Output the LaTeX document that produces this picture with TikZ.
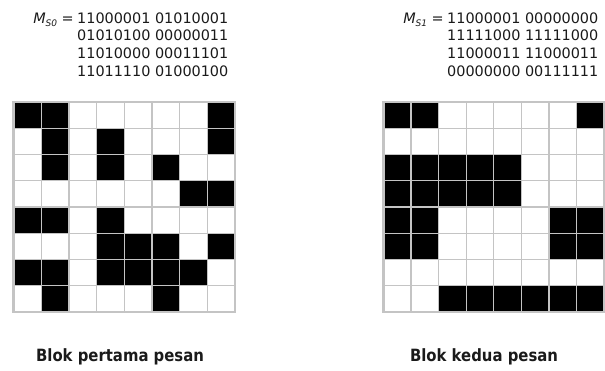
\documentclass[tikz,border=0pt]{standalone}
\usepackage{fontspec}
\setmainfont{DejaVu Sans}
\newfontfamily\lblfont[FakeStretch=0.88]{DejaVu Sans}
\definecolor{gridgray}{HTML}{C4C4C4}
\definecolor{inkcol}{HTML}{1A1A1A}
\begin{document}
\begin{tikzpicture}[x=1pt,y=-1pt,
  bits/.style={anchor=base west,inner sep=0pt,text=inkcol,font=\fontsize{14.4}{16}\selectfont},
  mlabel/.style={anchor=base east,inner sep=0pt,text=inkcol,font=\fontsize{14.4}{16}\selectfont},
  blocklabel/.style={anchor=base,inner sep=0pt,text=inkcol,font=\lblfont\bfseries\fontsize{16.9}{18}\selectfont},
  cellfill/.style={fill=black},
  gridline/.style={draw=gridgray,line width=1.3pt},
  gridborder/.style={draw=gridgray,line width=2.6pt}]
\useasboundingbox (0,0) rectangle (605,371);

% ---- left text ----
\node[mlabel] (m0) at (74,23.3) {\textit{M}\raisebox{-0.45ex}{\fontsize{9}{10}\selectfont\textit{S0}} =};
\node[bits] (a1) at (77,23.3) {11000001 01010001};
\node[bits] (a2) at (77,40.8) {01010100 00000011};
\node[bits] (a3) at (77,58.8) {11010000 00011101};
\node[bits] (a4) at (77,76.6) {11011110 01000100};

% ---- right text ----
\node[mlabel] (m1) at (444,23.3) {\textit{M}\raisebox{-0.45ex}{\fontsize{9}{10}\selectfont\textit{S1}} =};
\node[bits] (b1) at (447,23.3) {11000001 00000000};
\node[bits] (b2) at (447,40.8) {11111000 11111000};
\node[bits] (b3) at (447,58.8) {11000011 11000011};
\node[bits] (b4) at (447,76.6) {00000000 00111111};

% ---- left grid ----
\begin{scope}[shift={(13.5,102)},x=27.69pt,y=-26.25pt]
  \foreach \c/\r in {0/0,1/0,7/0, 1/1,3/1,7/1, 1/2,3/2,5/2, 6/3,7/3,
                     0/4,1/4,3/4, 3/5,4/5,5/5,7/5, 0/6,1/6,3/6,4/6,5/6,6/6, 1/7,5/7}
    \fill[cellfill] (\c,\r) rectangle ++(1,1);
  \foreach \i in {1,...,7} {
    \draw[gridline] (\i,0) -- (\i,8);
    \draw[gridline] (0,\i) -- (8,\i);
  }
  \draw[gridborder] (0,0) rectangle (8,8);
\end{scope}

% ---- right grid ----
\begin{scope}[shift={(383.5,102)},x=27.56pt,y=-26.25pt]
  \foreach \c/\r in {0/0,1/0,7/0,
                     0/2,1/2,2/2,3/2,4/2, 0/3,1/3,2/3,3/3,4/3,
                     0/4,1/4,6/4,7/4, 0/5,1/5,6/5,7/5,
                     2/7,3/7,4/7,5/7,6/7,7/7}
    \fill[cellfill] (\c,\r) rectangle ++(1,1);
  \foreach \i in {1,...,7} {
    \draw[gridline] (\i,0) -- (\i,8);
    \draw[gridline] (0,\i) -- (8,\i);
  }
  \draw[gridborder] (0,0) rectangle (8,8);
\end{scope}

% ---- captions ----
\node[blocklabel] (l0) at (120,361) {Blok pertama pesan};
\node[blocklabel] (l1) at (484,361) {Blok kedua pesan};
\end{tikzpicture}
\end{document}
